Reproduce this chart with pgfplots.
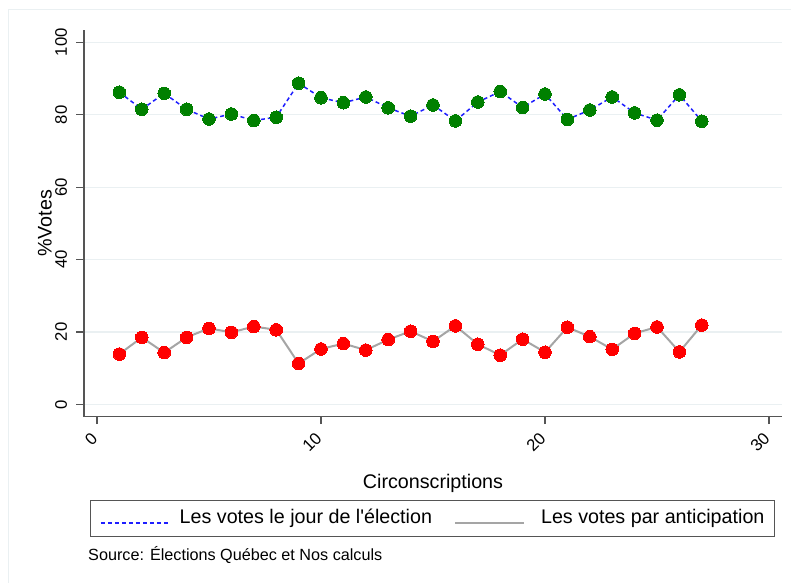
\documentclass[border=0pt]{standalone}
\usepackage{fontspec}
\setmainfont{Liberation Sans}
\usepackage{pgfplots}
\pgfplotsset{compat=1.18}
\definecolor{sgreen}{RGB}{0,128,0}
\definecolor{sred}{RGB}{255,0,0}
\definecolor{sblue}{RGB}{30,30,255}
\definecolor{sgray}{RGB}{165,165,165}
\definecolor{axgray}{RGB}{85,85,85}
\definecolor{gridc}{RGB}{234,240,242}
\begin{document}
\begin{tikzpicture}
\useasboundingbox (0,0) rectangle (791pt,582pt);
\draw[gridc, line width=1pt] (8pt,-5pt) -- (8pt,572pt) -- (800pt,572pt);
\begin{axis}[
  at={(84pt,165.3pt)}, anchor=south west,
  scale only axis, width=698pt, height=386.7pt,
  xmin=-0.58, xmax=30.58, ymin=-3.4, ymax=103.4,
  axis x line*=bottom, axis y line*=left,
  axis line style={-, draw=axgray, line width=1.1pt},
  xtick={0,10,20,30}, ytick={0,20,40,60,80,100},
  tick align=outside, major tick length=7.5pt,
  tick style={draw=axgray, line width=1.1pt},
  ymajorgrids, major grid style={draw=gridc, line width=1.2pt},
  /pgf/number format/assume math mode=true,
  ticklabel style={font=\fontsize{16.7}{20}\selectfont},
  yticklabel style={rotate=90, anchor=south},
  xticklabel style={rotate=45, anchor=east},
  yticklabel shift=6pt,
  xticklabel shift=9pt,
  xlabel={Circonscriptions},
  ylabel={\%Votes},
  label style={font=\fontsize{19.7}{23}\selectfont},
  xlabel style={at={(axis description cs:0.5,-0.1844)}, anchor=base},
  ylabel style={at={(axis description cs:-0.0559,0.5)}, anchor=center},
  legend columns=2,
  legend image code/.code={\draw[#1] (0pt,0pt) -- (69pt,0pt);},
  legend style={at={(axis description cs:0.0096,-0.2154)}, anchor=north west,
    draw=none, fill=none,
    font=\fontsize{19.7}{23}\selectfont,
    inner xsep=9.3pt, inner ysep=8.5pt,
    nodes={inner sep=0pt, text height=14.5pt, text depth=4.5pt, anchor=base west},
    /tikz/column 1/.style={column sep=9pt},
    /tikz/column 2/.style={column sep=22pt},
    /tikz/column 3/.style={column sep=16pt}},
  legend cell align=left,
]
\addplot[color=sblue, line width=1.5pt, dash pattern=on 4pt off 3pt, no marks] coordinates {
(1,86.2)(2,81.5)(3,85.9)(4,81.5)(5,78.8)(6,80.2)(7,78.4)(8,79.3)(9,88.7)(10,84.7)
(11,83.3)(12,84.9)(13,81.9)(14,79.6)(15,82.7)(16,78.3)(17,83.5)(18,86.4)(19,82.0)(20,85.7)
(21,78.7)(22,81.3)(23,84.9)(24,80.5)(25,78.5)(26,85.5)(27,78.2)};
\addlegendentry{Les votes le jour de l\textquotesingle élection}
\addplot[color=sgray, line width=2pt, no marks] coordinates {
(1,13.9)(2,18.5)(3,14.3)(4,18.5)(5,21.0)(6,19.9)(7,21.5)(8,20.6)(9,11.3)(10,15.3)
(11,16.8)(12,15.0)(13,17.9)(14,20.2)(15,17.4)(16,21.7)(17,16.6)(18,13.6)(19,18.0)(20,14.4)
(21,21.3)(22,18.7)(23,15.2)(24,19.6)(25,21.4)(26,14.5)(27,21.9)};
\addlegendentry{Les votes par anticipation}
\addplot[only marks, mark=*, mark size=6.3pt, mark options={fill=sgreen, draw=sgreen, line width=0pt}, forget plot] coordinates {
(1,86.2)(2,81.5)(3,85.9)(4,81.5)(5,78.8)(6,80.2)(7,78.4)(8,79.3)(9,88.7)(10,84.7)
(11,83.3)(12,84.9)(13,81.9)(14,79.6)(15,82.7)(16,78.3)(17,83.5)(18,86.4)(19,82.0)(20,85.7)
(21,78.7)(22,81.3)(23,84.9)(24,80.5)(25,78.5)(26,85.5)(27,78.2)};
\addplot[only marks, mark=*, mark size=6.3pt, mark options={fill=sred, draw=sred, line width=0pt}, forget plot] coordinates {
(1,13.9)(2,18.5)(3,14.3)(4,18.5)(5,21.0)(6,19.9)(7,21.5)(8,20.6)(9,11.3)(10,15.3)
(11,16.8)(12,15.0)(13,17.9)(14,20.2)(15,17.4)(16,21.7)(17,16.6)(18,13.6)(19,18.0)(20,14.4)
(21,21.3)(22,18.7)(23,15.2)(24,19.6)(25,21.4)(26,14.5)(27,21.9)};
\end{axis}
\draw[axgray, line width=1pt] (90.7pt,46pt) rectangle (774pt,82pt);
\node[anchor=base west, font=\fontsize{16.2}{19}\selectfont, inner sep=0pt] at (88pt,22pt) {Source: Élections Québec et Nos calculs};
\end{tikzpicture}
\end{document}
